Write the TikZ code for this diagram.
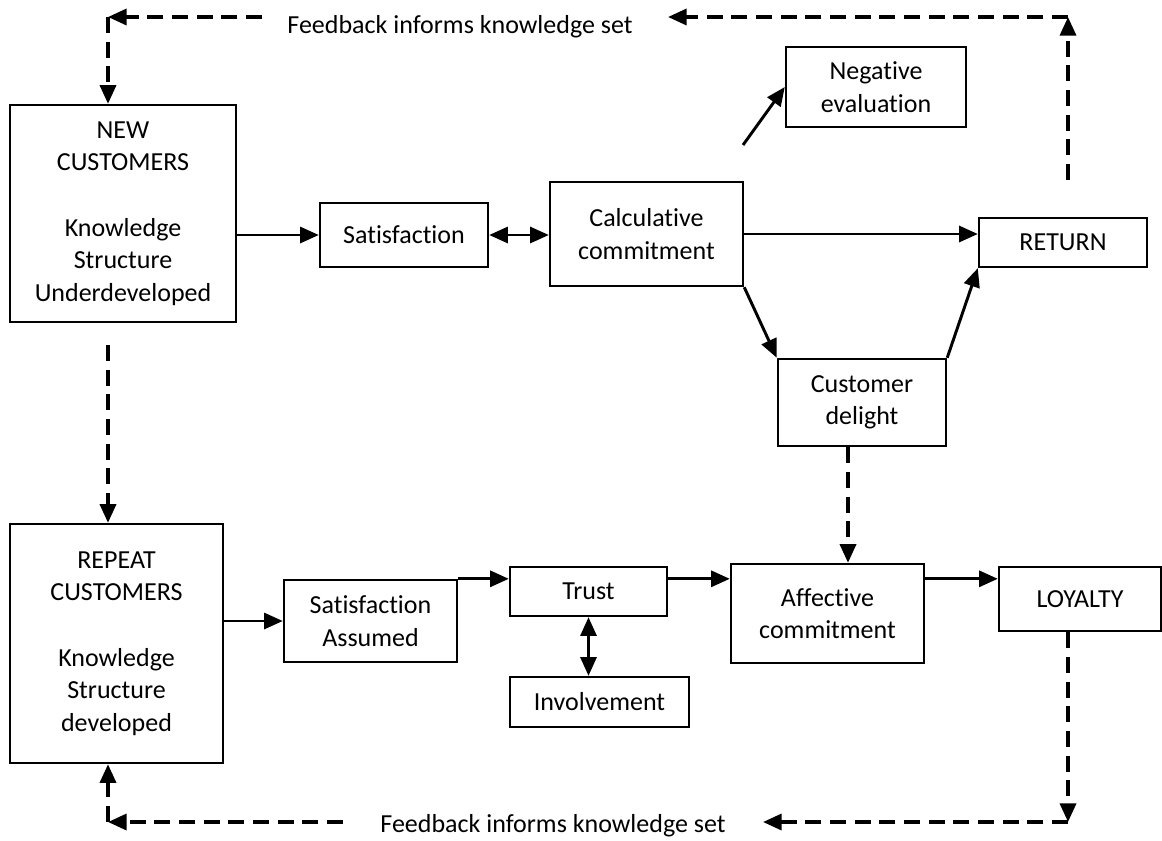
\documentclass[tikz,border=0pt]{standalone}
\usepackage{fontspec}
\setmainfont{Carlito}[Ligatures=CommonOff]
\usetikzlibrary{calc,positioning,arrows.meta}
\newcommand\bxfont{\fontsize{19.5pt}{24.4pt}\selectfont}

\begin{document}
\begin{tikzpicture}[x=0.75pt,y=-0.75pt,
  bx/.style={draw=black,line width=1.8pt,fill=white,inner sep=0pt,align=center,font=\bxfont},
  ar/.style={-{Triangle[length=14pt,width=12pt]},line width=2.2pt},
  dar/.style={{Triangle[length=14pt,width=12pt]}-{Triangle[length=14pt,width=12pt]},line width=2.2pt},
  fbk/.style={ar,line width=2.6pt,dash pattern=on 12pt off 6.5pt}]
\fill[white] (0,0) rectangle (1162,840);
\useasboundingbox (0,0) rectangle (1162,840);
% upper row
\node[bx,minimum width=169.5pt,minimum height=162.75pt] (new) at (123,213.5) {NEW\\CUSTOMERS\\[24.4pt]Knowledge\\Structure\\Underdeveloped};
\node[bx,minimum width=126pt,minimum height=48pt] (sat) at (404,235) {Satisfaction};
\node[bx,minimum width=144.75pt,minimum height=78pt] (calc) at (646.5,234) {Calculative\\commitment};
\node[bx,minimum width=135pt,minimum height=60pt] (neg) at (876,87) {Negative\\evaluation};
\node[bx,minimum width=126pt,minimum height=36.75pt] (ret) at (1063,242.5) {RETURN};
\node[bx,minimum width=126pt,minimum height=65.25pt] (del) at (862,402.5) {Customer\\delight};
% lower row
\node[bx,minimum width=159.75pt,minimum height=179.25pt] (rep) at (116.5,643.5) {REPEAT\\CUSTOMERS\\[24.4pt]Knowledge\\Structure\\developed};
\node[bx,minimum width=129.75pt,minimum height=61.5pt] (sa) at (370.5,621) {Satisfaction\\Assumed};
\node[bx,minimum width=117.75pt,minimum height=36.75pt] (trust) at (588.5,591.5) {Trust};
\node[bx,minimum width=134.25pt,minimum height=37.5pt] (inv) at (599.5,702) {Involvement};
\node[bx,minimum width=144.75pt,minimum height=74.25pt] (aff) at (827.5,613.5) {Affective\\commitment};
\node[bx,minimum width=121.5pt,minimum height=48pt] (loy) at (1080,599) {LOYALTY};
% feedback labels
\node[font=\bxfont,inner sep=0pt] (fbtop) at (460,27) {Feedback informs knowledge set};
\node[font=\bxfont,inner sep=0pt] (fbbot) at (553,826) {Feedback informs knowledge set};
\coordinate (ng0) at (743,145);
\coordinate (nr0) at (108,345);
\coordinate (rt0) at (1068,180);\coordinate (rt1) at (1068,17);\coordinate (ta) at (668,17);\coordinate (tb) at (262,17);\coordinate (lt) at (108,17);
\coordinate (rb1) at (1068,822);\coordinate (ba) at (763,822);\coordinate (bb) at (343,822);\coordinate (lb) at (108,822);
% solid connectors
\draw[ar] (new.east |- sat.west) -- (sat.west);
\draw[dar] (sat.east) -- (calc.west |- sat.east);
\draw[ar] (calc.east) -- (ret.west |- calc.east);
\draw[ar] (calc.south east) -- (del.north west);
\draw[ar] (del.north east) -- (ret.south west);
\draw[ar] (ng0) -- (neg.west);
\draw[ar] (rep.east |- sa.west) -- (sa.west);
\draw[ar] (sa.north east) -- (trust.west |- sa.north east);
\draw[ar] (trust.east |- sa.north east) -- (aff.west |- sa.north east);
\draw[ar] (aff.east |- sa.north east) -- (loy.west |- sa.north east);
\draw[dar] (trust.south) -- (trust.south |- inv.north);
% dashed connectors
\draw[fbk] (nr0) -- (nr0 |- rep.north);
\draw[fbk] ([xshift=-10.5pt]del.south) -- ([xshift=-10.5pt]del.south |- aff.north);
\draw[fbk] (rt0) -- (rt1);\draw[fbk] (rt1) -- (ta);\draw[fbk] (tb) -- (lt);\draw[fbk] (lt) -- (lt |- new.north);
\draw[fbk] ([xshift=-9pt]loy.south) -- (rb1);\draw[fbk] (rb1) -- (ba);\draw[fbk] (bb) -- (lb);\draw[fbk] (lb) -- (lb |- rep.south);
\end{tikzpicture}
\end{document}
